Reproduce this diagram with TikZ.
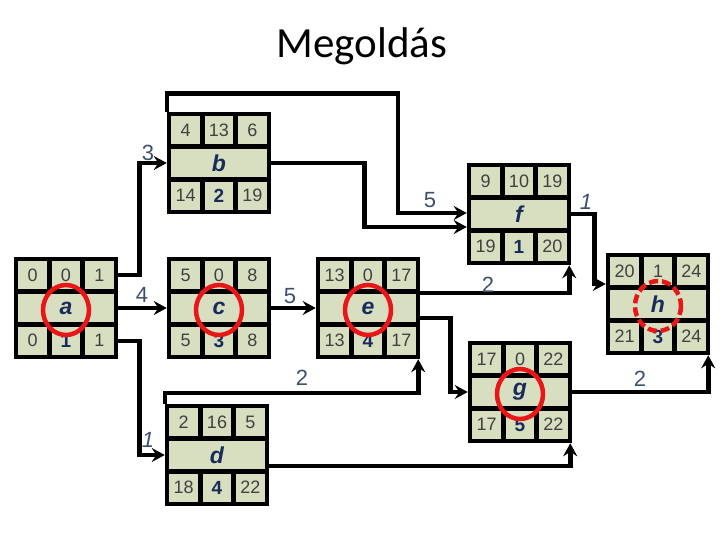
\documentclass[tikz,border=0pt]{standalone}
\usepackage{fontspec}
\setmainfont{Liberation Sans}
\newfontfamily\titlefont{Carlito}
\usetikzlibrary{arrows.meta,calc}

\definecolor{cellfill}{RGB}{216,222,192}
\definecolor{namenavy}{RGB}{24,44,90}
\definecolor{labelslate}{RGB}{60,80,110}
\definecolor{ringred}{RGB}{232,22,22}

\tikzset{
  taskbox/.style={draw, line width=4.5pt, fill=cellfill, minimum width=100pt, minimum height=98pt, inner sep=0pt},
  cellline/.style={line width=4.5pt},
  numtext/.style={font=\fontsize{18}{18}\selectfont, text=black!75, inner sep=0pt},
  nametext/.style={font=\fontsize{23}{23}\selectfont\bfseries\itshape, text=namenavy, inner sep=0pt},
  durtext/.style={font=\fontsize{19}{19}\selectfont\bfseries, text=namenavy, inner sep=0pt},
  link/.style={line width=4.5pt, -{Stealth[length=13pt,width=14pt,inset=4.5pt]}},
  linklabel/.style={font=\fontsize{22}{22}\selectfont, text=labelslate, inner sep=0pt},
  goalring/.style={draw=ringred, line width=4.5pt},
}

% #1 name, #2 position, #3-#5 top row, #6 letter, #7-#9 bottom row
\newcommand{\tasknode}[9]{%
  \node[taskbox] (#1) at #2 {};
  \begin{scope}[shift={(#1.center)}]
    \draw[cellline] (-50,-16.3) -- (50,-16.3) (-50,16.3) -- (50,16.3);
    \draw[cellline] (-16.7,-49) -- (-16.7,-16.3) (16.7,-49) -- (16.7,-16.3)
      (-16.7,16.3) -- (-16.7,49) (16.7,16.3) -- (16.7,49);
    \node[numtext] (#1-es) at (-33.3,-32.7) {#3};
    \node[numtext] (#1-sl) at (0,-32.7) {#4};
    \node[numtext] (#1-ef) at (33.3,-32.7) {#5};
    \node[nametext] (#1-name) at (0,0) {#6};
    \node[numtext] (#1-ls) at (-33.3,32.7) {#7};
    \node[durtext] (#1-dur) at (0,32.7) {#8};
    \node[numtext] (#1-lf) at (33.3,32.7) {#9};
  \end{scope}}

\begin{document}
\begin{tikzpicture}[x=1pt, y=-1pt]
  \useasboundingbox (0,0) rectangle (720,540);

  % title
  \node[font=\titlefont\fontsize{43}{43}\selectfont] (title) at (362,46) {Megoldás};

  % tasks
  \tasknode{a}{(66,308)}{0}{0}{1}{a}{0}{1}{1}
  \tasknode{b}{(219,163)}{4}{13}{6}{b}{14}{2}{19}
  \tasknode{c}{(219,308)}{5}{0}{8}{c}{5}{3}{8}
  \tasknode{d}{(217,455)}{2}{16}{5}{d}{18}{4}{22}
  \tasknode{e}{(368,308)}{13}{0}{17}{e}{13}{4}{17}
  \tasknode{f}{(519,214)}{9}{10}{19}{f}{19}{1}{20}
  \tasknode{g}{(520,392)}{17}{0}{22}{g}{17}{5}{22}
  \tasknode{h}{(658,304)}{20}{1}{24}{h}{21}{3}{24}

  % critical path rings
  \foreach \n in {a,c,e,g}
    \draw[goalring] ($(\n.center)+(0,2)$) ellipse (23 and 25);
  \draw[goalring, dash pattern=on 9pt off 4pt] ($(h.center)+(0,2)$) ellipse (23 and 25);

  % connectors
  \draw[link] ($(a.east)+(0,-33)$) -- ++(21,0) |- (b.west);
  \draw[link] (a.east) -- (c.west);
  \draw[link] ($(a.east)+(0,33)$) -- ++(21,0) |- (d.west);
  \draw[link] (b.north west) -- ++(0,-18) -- ++(231,0) |- ($(f.west)+(0,-1)$);
  \draw[link] (b.east) -- ++(93,0) |- ($(f.west)+(0,13)$);
  \draw[link] (f.east) -- ++(23,0) |- ($(h.west)+(0,-20)$);
  \draw[link] (c.east) -- (e.west);
  \draw[link] ($(e.east)+(0,-15)$) -| ($(f.south east)+(-2,0)$);
  \draw[link] ($(e.east)+(0,10)$) -- ++(30,0) |- (g.west);
  \draw[link] (d.north west) -- ++(0,-11) -| ($(e.south east)+(-2,0)$);
  \draw[link] ($(d.east)+(0,11)$) -| ($(g.south east)+(-2,0)$);
  \draw[link] (g.east) -| ($(h.south east)+(-2,0)$);

  % durations on the connectors
  \node[linklabel] (w-ab) at (148,153) {3};
  \node[linklabel] (w-ac) at (142,295) {4};
  \node[linklabel, font=\fontsize{22}{22}\selectfont\itshape] (w-ad) at (148,440) {1};
  \node[linklabel] (w-bf) at (430,200) {5};
  \node[linklabel, font=\fontsize{22}{22}\selectfont\itshape] (w-fh) at (586,202) {1};
  \node[linklabel] (w-ce) at (290,296) {5};
  \node[linklabel] (w-ef) at (488,285) {2};
  \node[linklabel] (w-de) at (302,378) {2};
  \node[linklabel] (w-gh) at (640,379) {2};
\end{tikzpicture}
\end{document}
